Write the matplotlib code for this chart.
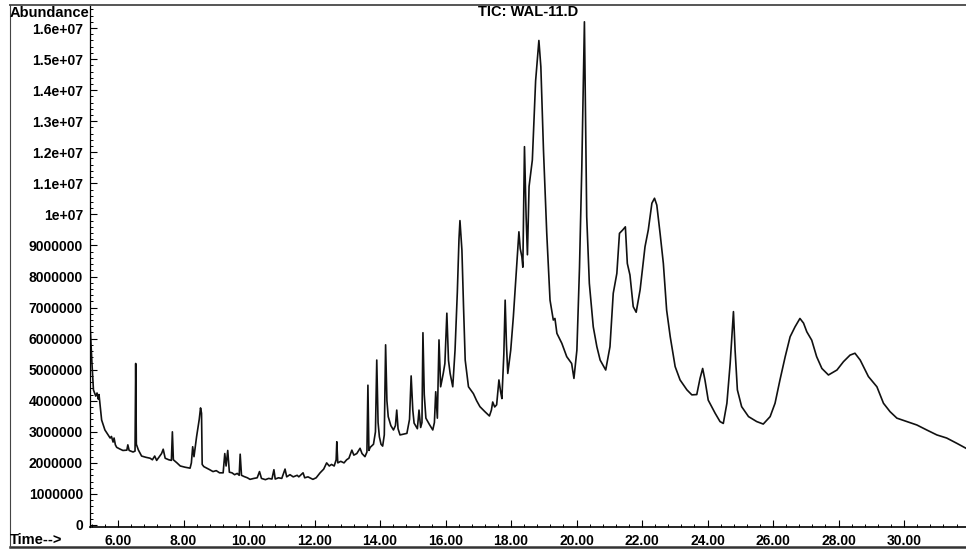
import matplotlib
matplotlib.use('Agg')
import matplotlib.pyplot as plt
from matplotlib.lines import Line2D
from matplotlib.ticker import MultipleLocator
import numpy as np

# retention time (min) and abundance (millions of counts)
time_min = [
    5.15, 5.20, 5.25, 5.32, 5.36, 5.40, 5.42, 5.50, 5.60, 5.70, 5.76, 5.80, 5.85, 5.88,
    5.92, 5.96, 6.05, 6.15, 6.27, 6.30, 6.34, 6.46, 6.52, 6.54, 6.56, 6.62, 6.72, 6.85,
    6.98, 7.05, 7.12, 7.18, 7.25, 7.33, 7.38, 7.44, 7.55, 7.63, 7.66, 7.69, 7.80, 7.90,
    8.05, 8.20, 8.24, 8.28, 8.32, 8.40, 8.48, 8.52, 8.55, 8.57, 8.62, 8.71, 8.80, 8.90,
    9.00, 9.10, 9.21, 9.26, 9.30, 9.35, 9.40, 9.48, 9.56, 9.64, 9.70, 9.73, 9.77, 9.85,
    9.95, 10.03, 10.15, 10.25, 10.32, 10.38, 10.50, 10.60, 10.70, 10.76, 10.80, 10.90,
    11.00, 11.10, 11.15, 11.25, 11.35, 11.47, 11.52, 11.65, 11.70, 11.80, 11.95, 12.05,
    12.17, 12.28, 12.37, 12.45, 12.52, 12.60, 12.66, 12.68, 12.71, 12.80, 12.90, 12.98,
    13.05, 13.14, 13.20, 13.29, 13.39, 13.45, 13.54, 13.60, 13.63, 13.66, 13.70, 13.80,
    13.86, 13.90, 13.94, 13.98, 14.03, 14.08, 14.13, 14.17, 14.21, 14.25, 14.33, 14.41,
    14.47, 14.51, 14.55, 14.61, 14.70, 14.82, 14.90, 14.95, 15.00, 15.04, 15.14, 15.19,
    15.24, 15.28, 15.31, 15.35, 15.40, 15.50, 15.61, 15.66, 15.70, 15.75, 15.80, 15.85,
    15.93, 15.98, 16.04, 16.09, 16.14, 16.22, 16.29, 16.36, 16.41, 16.44, 16.47, 16.50,
    16.55, 16.60, 16.70, 16.85, 16.95, 17.05, 17.20, 17.34, 17.40, 17.44, 17.50, 17.56,
    17.63, 17.68, 17.72, 17.78, 17.82, 17.86, 17.90, 17.99, 18.07, 18.17, 18.24, 18.28,
    18.33, 18.36, 18.41, 18.46, 18.50, 18.55, 18.65, 18.75, 18.85, 18.91, 18.99, 19.09,
    19.19, 19.29, 19.34, 19.40, 19.55, 19.70, 19.85, 19.92, 20.01, 20.09, 20.16, 20.24,
    20.28, 20.31, 20.39, 20.51, 20.62, 20.72, 20.89, 21.02, 21.12, 21.23, 21.31, 21.41,
    21.49, 21.55, 21.63, 21.73, 21.82, 21.94, 22.09, 22.19, 22.30, 22.38, 22.45, 22.55,
    22.65, 22.75, 22.86, 23.01, 23.16, 23.37, 23.52, 23.67, 23.77, 23.85, 23.92, 24.02,
    24.23, 24.38, 24.48, 24.59, 24.69, 24.79, 24.84, 24.91, 25.04, 25.25, 25.50, 25.70,
    25.91, 26.06, 26.21, 26.37, 26.52, 26.67, 26.82, 26.93, 27.03, 27.18, 27.33, 27.49,
    27.69, 27.95, 28.15, 28.35, 28.50, 28.66, 28.91, 29.17, 29.37, 29.57, 29.78, 30.08,
    30.39, 30.69, 31.00, 31.30, 31.61, 31.89,
]
abundance_m = [
    6.40, 5.30, 4.35, 4.15, 4.25, 4.05, 4.20, 3.38, 3.06, 2.90, 2.80, 2.85, 2.67, 2.80,
    2.58, 2.50, 2.45, 2.40, 2.41, 2.58, 2.40, 2.35, 2.38, 5.20, 2.60, 2.42, 2.22, 2.18,
    2.15, 2.10, 2.22, 2.08, 2.18, 2.30, 2.44, 2.15, 2.10, 2.08, 3.00, 2.10, 2.00, 1.90,
    1.86, 1.83, 2.00, 2.52, 2.20, 2.85, 3.40, 3.77, 3.60, 1.95, 1.88, 1.83, 1.78, 1.72,
    1.75, 1.68, 1.68, 2.30, 1.90, 2.40, 1.70, 1.68, 1.62, 1.66, 1.60, 2.28, 1.60, 1.56,
    1.52, 1.47, 1.50, 1.52, 1.72, 1.50, 1.46, 1.50, 1.48, 1.78, 1.48, 1.52,
    1.50, 1.80, 1.55, 1.62, 1.55, 1.60, 1.55, 1.68, 1.52, 1.55, 1.47, 1.52,
    1.68, 1.80, 2.00, 1.90, 1.95, 1.90, 2.10, 2.68, 2.00, 2.05, 2.00, 2.10,
    2.15, 2.41, 2.25, 2.30, 2.47, 2.30, 2.20, 2.35, 4.50, 2.40, 2.50, 2.60,
    3.00, 5.31, 3.30, 2.84, 2.60, 2.54, 2.90, 5.80, 4.00, 3.49, 3.20, 3.06,
    3.20, 3.70, 3.10, 2.90, 2.92, 2.95, 3.40, 4.80, 3.70, 3.28, 3.10, 3.70,
    3.14, 3.30, 6.19, 4.20, 3.44, 3.25, 3.06, 3.30, 4.29, 3.44, 5.96, 4.45,
    4.88, 5.20, 6.82, 5.30, 4.88, 4.45, 5.63, 7.50, 9.20, 9.80, 9.30, 8.85,
    7.00, 5.31, 4.45, 4.23, 4.00, 3.81, 3.65, 3.51, 3.70, 3.96, 3.80, 3.87,
    4.67, 4.30, 4.07, 5.50, 7.24, 5.80, 4.88, 5.63, 6.70, 8.30, 9.44, 8.90,
    8.64, 8.30, 12.18, 9.93, 8.70, 10.90, 11.75, 14.30, 15.60, 14.75, 12.07, 9.39,
    7.24, 6.60, 6.65, 6.17, 5.85, 5.42, 5.20, 4.72, 5.63, 8.30, 11.50, 16.20,
    12.60, 9.93, 7.78, 6.38, 5.74, 5.31, 4.99, 5.74, 7.46, 8.10, 9.39, 9.50,
    9.60, 8.42, 8.05, 7.03, 6.85, 7.57, 8.96, 9.50, 10.36, 10.52, 10.30, 9.39,
    8.42, 6.92, 6.06, 5.10, 4.67, 4.35, 4.19, 4.20, 4.72, 5.04, 4.67, 4.02,
    3.60, 3.33, 3.27, 3.92, 5.20, 6.87, 5.63, 4.35, 3.81, 3.49, 3.33, 3.25,
    3.49, 3.92, 4.67, 5.42, 6.06, 6.38, 6.65, 6.50, 6.22, 5.95, 5.42, 5.04,
    4.83, 4.99, 5.26, 5.47, 5.53, 5.31, 4.78, 4.45, 3.92, 3.65, 3.44, 3.33,
    3.22, 3.06, 2.90, 2.80, 2.63, 2.47,
]

x_ticks = [6, 8, 10, 12, 14, 16, 18, 20, 22, 24, 26, 28, 30]
x_labels = ['%.2f' % v for v in x_ticks]
y_ticks = [i * 1e6 for i in range(17)]
y_labels = ['0', '1000000', '2000000', '3000000', '4000000', '5000000',
            '6000000', '7000000', '8000000', '9000000', '1e+07', '1.1e+07',
            '1.2e+07', '1.3e+07', '1.4e+07', '1.5e+07', '1.6e+07']

plt.rcParams['font.family'] = ['Liberation Sans', 'DejaVu Sans']
plt.rcParams['font.weight'] = 'bold'

W, H = 966, 552
fig = plt.figure(figsize=(W / 100, H / 100), dpi=100)
ax = fig.add_axes([90 / W, 25 / H, 876 / W, 522 / H])

ax.plot(time_min, np.array(abundance_m) * 1e6, color='#111111', lw=1.2)

ax.set_xlim(5.145, 31.89)
ax.set_ylim(-0.0644e6, 16.742e6)
for s in ['top', 'right']:
    ax.spines[s].set_visible(False)
ax.spines['left'].set_linewidth(0.9)
ax.spines['bottom'].set_linewidth(1.2)

ax.set_xticks(x_ticks)
ax.set_xticklabels(x_labels)
ax.set_yticks(y_ticks)
ax.set_yticklabels(y_labels)
ax.xaxis.set_minor_locator(MultipleLocator(0.4))
ax.yaxis.set_minor_locator(MultipleLocator(2e5))
ax.tick_params(which='major', direction='in', length=5, width=0.8,
               labelsize=10, colors='black')
ax.tick_params(which='minor', direction='in', length=2.5, width=0.7)
ax.tick_params(axis='x', pad=5)
ax.tick_params(axis='y', pad=5)
for lab in ax.get_xticklabels() + ax.get_yticklabels():
    lab.set_fontweight('bold')

fig.text(10 / W, 1 - 13 / H, 'Abundance', ha='left', va='center',
         fontsize=10.5, fontweight='bold')
fig.text(528 / W, 1 - 12 / H, 'TIC: WAL-11.D', ha='center', va='center',
         fontsize=10.5, fontweight='bold')
fig.text(10 / W, 1 - 540 / H, 'Time-->', ha='left', va='center',
         fontsize=10.5, fontweight='bold')

# printed frame round the report
fig.add_artist(Line2D([10 / W, 1], [1 - 5 / H, 1 - 5 / H], color='#555555', lw=1.4))
fig.add_artist(Line2D([10 / W, 1], [1 - 547 / H, 1 - 547 / H], color='#333333', lw=1.8))
fig.add_artist(Line2D([10 / W, 10 / W], [1 - 5 / H, 1 - 547 / H], color='#444444', lw=0.8))

fig.savefig('out.png', dpi=100)
